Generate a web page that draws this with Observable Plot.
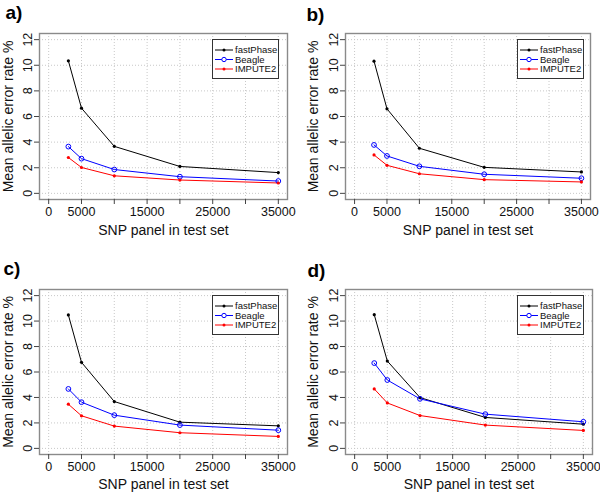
<!DOCTYPE html>
<html>
<head>
<meta charset="utf-8">
<script src="https://cdn.jsdelivr.net/npm/d3@7"></script>
<script src="https://cdn.jsdelivr.net/npm/@observablehq/plot@0.6"></script>
<style>
  html, body { margin: 0; padding: 0; background: #fff; }
  #wrap { position: relative; width: 600px; height: 493px; font-family: "Liberation Sans", Arial, sans-serif; }
  .panel { position: absolute; }
  .legend { position: absolute; }
</style>
</head>
<body>
<div id="wrap"></div>
<script>
// ---- data ----
const snpPanel = [3000, 5000, 10000, 20000, 35000];
const seriesNames = ["fastPhase", "Beagle", "IMPUTE2"];
const panelLabels = ["a)", "b)", "c)", "d)"];
const xTicks = [0, 5000, 10000, 15000, 20000, 25000, 30000, 35000];
const xLabelled = [0, 5000, 15000, 25000, 35000];
const yTicks = [0, 2, 4, 6, 8, 10, 12];

const fastPhaseA = [10.35, 6.65, 3.67, 2.10, 1.62];
const beagleA    = [3.65, 2.71, 1.86, 1.30, 0.96];
const impute2A   = [2.80, 2.02, 1.37, 1.04, 0.81];

const fastPhaseB = [10.32, 6.60, 3.52, 2.03, 1.67];
const beagleB    = [3.78, 2.92, 2.11, 1.49, 1.18];
const impute2B   = [3.00, 2.19, 1.53, 1.07, 0.89];

const fastPhaseC = [10.48, 6.76, 3.68, 2.06, 1.77];
const beagleC    = [4.67, 3.63, 2.61, 1.83, 1.43];
const impute2C   = [3.47, 2.56, 1.75, 1.23, 0.94];

const fastPhaseD = [10.50, 6.86, 3.99, 2.43, 1.90];
const beagleD    = [6.70, 5.37, 3.89, 2.69, 2.09];
const impute2D   = [4.67, 3.57, 2.58, 1.83, 1.41];

// ---- layout ----
const colors = {fastPhase: "#000000", Beagle: "#0000ff", IMPUTE2: "#ff0000"};
const font = "Liberation Sans, Arial, Helvetica, sans-serif";

const layout = [
  {left: 0,   top: 0,   h: 246, ml: 39, mr: 13, mt: 33, mb: 47, lab: [-34, -20.5], yt: -30.5, xt: 31, lg: {x: 212, y: 39}},
  {left: 300, top: 0,   h: 246, ml: 45, mr: 10, mt: 33, mb: 47, lab: [-39, -18.5], yt: -32,   xt: 31, lg: {x: 217, y: 39}},
  {left: 0,   top: 246, h: 247, ml: 39, mr: 13, mt: 43, mb: 39, lab: [-36, -20.5], yt: -31,   xt: 30, lg: {x: 212, y: 49}},
  {left: 300, top: 246, h: 247, ml: 45, mr: 8,  mt: 43, mb: 39, lab: [-38, -18.5], yt: -32,   xt: 30, lg: {x: 217, y: 49}}
];
const panelData = [
  [fastPhaseA, beagleA, impute2A],
  [fastPhaseB, beagleB, impute2B],
  [fastPhaseC, beagleC, impute2C],
  [fastPhaseD, beagleD, impute2D]
];

const wrap = document.getElementById("wrap");

layout.forEach((L, p) => {
  const [fast, beagle, imp] = panelData[p];
  const chart = Plot.plot({
    width: 300,
    height: L.h,
    marginLeft: L.ml, marginRight: L.mr, marginTop: L.mt, marginBottom: L.mb,
    style: {fontFamily: font, background: "white", overflow: "visible"},
    x: {domain: [-1400, 36400]},
    y: {domain: [-0.48, 12.48]},
    marks: [
      Plot.gridX(xTicks, {stroke: "#c8c8c8", strokeOpacity: 1, strokeDasharray: "1,2"}),
      Plot.gridY(yTicks, {stroke: "#c8c8c8", strokeOpacity: 1, strokeDasharray: "1,2"}),
      Plot.frame({stroke: "#8a8a8a", strokeWidth: 1.4}),
      Plot.axisX(xTicks, {
        tickSize: 5, tickPadding: 3, fontSize: 12.5, label: null, stroke: "#444", fill: "#111",
        tickFormat: d => xLabelled.includes(d) ? String(d) : ""
      }),
      Plot.axisY(yTicks, {tickSize: 5, tickPadding: 3, fontSize: 12.5, tickRotate: -90, label: null, stroke: "#444", fill: "#111"}),
      Plot.lineY(fast,   {x: snpPanel, stroke: colors.fastPhase, strokeWidth: 1}),
      Plot.lineY(beagle, {x: snpPanel, stroke: colors.Beagle, strokeWidth: 1}),
      Plot.lineY(imp,    {x: snpPanel, stroke: colors.IMPUTE2, strokeWidth: 1}),
      Plot.dotY(fast,    {x: snpPanel, fill: colors.fastPhase, r: 1.6}),
      Plot.dotY(beagle,  {x: snpPanel, stroke: colors.Beagle, fill: "none", r: 2.4, strokeWidth: 1}),
      Plot.dotY(imp,     {x: snpPanel, fill: colors.IMPUTE2, r: 1.6}),
      Plot.text(["Mean allelic error rate %"], {frameAnchor: "left", dx: L.yt, rotate: -90, fontSize: 14, fill: "#111", textAnchor: "middle", lineAnchor: "middle"}),
      Plot.text(["SNP panel in test set"], {frameAnchor: "bottom", dy: L.xt, fontSize: 14, fill: "#111", lineAnchor: "middle"}),
      Plot.text([panelLabels[p]], {frameAnchor: "top-left", dx: L.lab[0], dy: L.lab[1], fontSize: 19, fontWeight: "bold", fill: "#000", textAnchor: "start", lineAnchor: "middle"})
    ]
  });
  const div = document.createElement("div");
  div.className = "panel";
  div.style.left = L.left + "px";
  div.style.top = L.top + "px";
  div.appendChild(chart);

  // legend (overlay)
  const lw = 67, lh = 40;
  const svg = d3.create("svg").attr("class", "legend")
    .attr("width", lw).attr("height", lh)
    .style("left", L.lg.x + "px").style("top", L.lg.y + "px");
  svg.append("rect").attr("x", 0.5).attr("y", 0.5).attr("width", lw - 1).attr("height", lh - 1)
    .attr("fill", "white").attr("stroke", "#333").attr("stroke-width", 1);
  seriesNames.forEach((s, i) => {
    const cy = 11 + i * 9.5;
    svg.append("line").attr("x1", 3).attr("x2", 21).attr("y1", cy).attr("y2", cy)
      .attr("stroke", colors[s]).attr("stroke-width", 1);
    if (s === "Beagle") {
      svg.append("circle").attr("cx", 12).attr("cy", cy).attr("r", 2.2)
        .attr("fill", "white").attr("stroke", colors[s]).attr("stroke-width", 1);
    } else {
      svg.append("circle").attr("cx", 12).attr("cy", cy).attr("r", 1.5).attr("fill", colors[s]);
    }
    svg.append("text").attr("x", 23).attr("y", cy).attr("dy", "0.35em")
      .attr("font-size", 9.5).attr("font-family", font).attr("fill", "#111").text(s);
  });
  div.appendChild(svg.node());
  wrap.appendChild(div);
});
</script>
</body>
</html>
